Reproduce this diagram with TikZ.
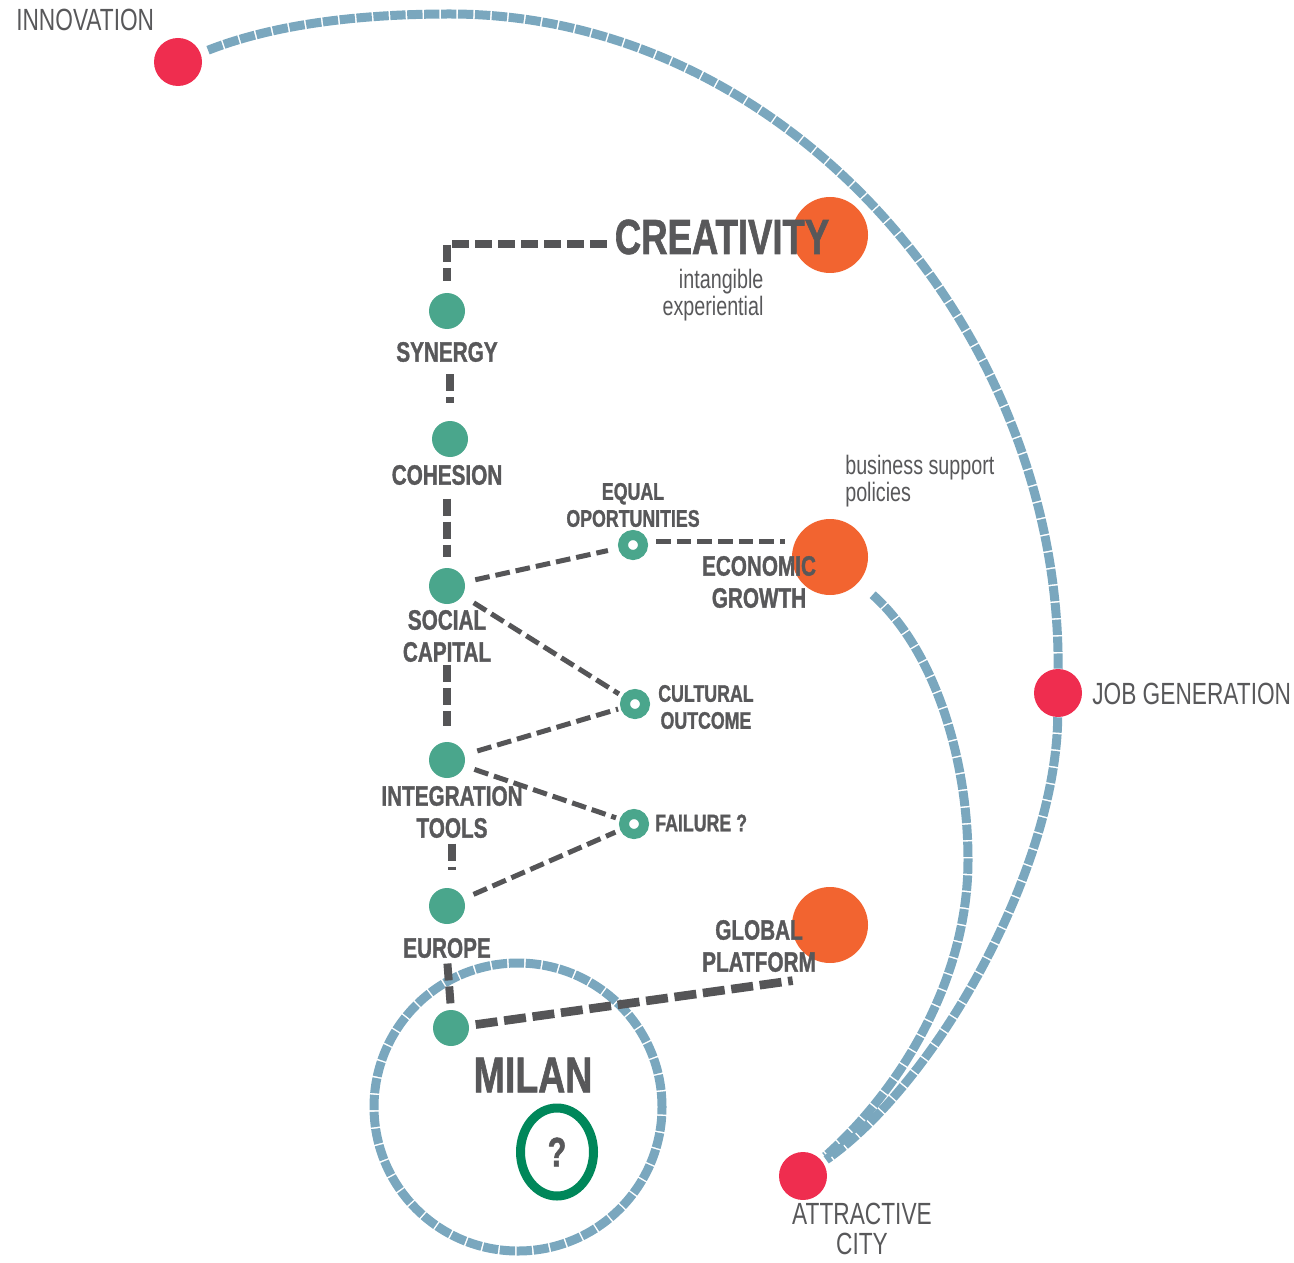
\documentclass[tikz,border=0pt]{standalone}
\usepackage{fontspec}
\setmainfont{Liberation Sans}[FakeStretch=0.74, BoldFeatures={FakeBold=1.2}]
\usetikzlibrary{shapes.geometric}
\definecolor{tx}{HTML}{58585A}
\definecolor{dk}{HTML}{555557}
\definecolor{bl}{HTML}{7AA7BE}
\definecolor{tl}{HTML}{4AA68C}
\definecolor{org}{HTML}{F26430}
\definecolor{rd}{HTML}{EF2D4F}
\definecolor{gr}{HTML}{00875A}
\begin{document}
\begin{tikzpicture}[x=0.75pt,y=-0.75pt,
 blueline/.style={draw=bl, line width=6.75pt, dash pattern=on 11.5pt off 1.2pt},
 spine/.style={draw=dk, line width=6pt, dash pattern=on 12.75pt off 4.5pt},
 thinl/.style={draw=dk, line width=3.75pt, dash pattern=on 11pt off 4.5pt},
 milline/.style={draw=dk, line width=6.5pt, dash pattern=on 16.5pt off 5pt},
 gdot/.style={circle, fill=tl, minimum size=27pt, inner sep=0pt},
 ring/.style={circle, draw=tl, fill=white, line width=7.5pt, minimum size=15pt, inner sep=0pt},
 odot/.style={circle, fill=org, minimum size=57pt, inner sep=0pt},
 rdot/.style={circle, fill=rd, minimum size=36pt, inner sep=0pt},
 lab/.style={text=tx, font=\bfseries\fontsize{21}{24}\selectfont, inner sep=0pt, align=center},
 slab/.style={text=tx, font=\bfseries\fontsize{18}{20.25}\selectfont, inner sep=0pt, align=center},
 rlab/.style={text=tx, font=\fontsize{23}{22.5}\selectfont, inner sep=0pt, align=center},
 note/.style={text=tx, font=\fontsize{20}{20.5}\selectfont, inner sep=0pt},
]
\useasboundingbox (0,0) rectangle (1294,1262);

% dots
\node[rdot] (innov) at (178,62) {};
\node[rdot] (job) at (1058,693) {};
\node[rdot] (attr) at (803,1176) {};
\node[odot] (creadot) at (830,235) {};
\node[odot] (econ) at (830,557) {};
\node[odot] (glob) at (830,925) {};
\node[gdot] (syn) at (447,311) {};
\node[gdot] (coh) at (450,439) {};
\node[gdot] (soc) at (447,586) {};
\node[gdot] (integ) at (447,760) {};
\node[gdot] (eur) at (447,906) {};
\node[gdot] (mil) at (451,1028) {};
\node[ring] (eq) at (633,545) {};
\node[ring] (cult) at (635,704) {};
\node[ring] (fail) at (634,824) {};

% labels
\node[lab, font=\bfseries\fontsize{37}{40}\selectfont] (crea) at (722,237) {CREATIVITY};
\node[note, align=right] (intang) at (713,295) {intangible\\experiential};
\node[lab] (synl) at (447,352) {SYNERGY};
\node[lab] (cohl) at (447,475) {COHESION};
\node[lab] (socl) at (447,636) {SOCIAL\\CAPITAL};
\node[lab] (integl) at (452,812) {INTEGRATION\\TOOLS};
\node[lab] (eurl) at (447,948) {EUROPE};
\node[slab] (eql) at (633,505) {EQUAL\\OPORTUNITIES};
\node[slab, anchor=west] (cultl) at (658,707) {CULTURAL\\OUTCOME};
\node[slab, anchor=west] (faill) at (655,823) {FAILURE ?};
\node[note, align=left, anchor=west] (bsp) at (845,481) {business support\\policies};
\node[rlab, anchor=west] (innovl) at (16,20) {INNOVATION};
\node[rlab, anchor=west] (jobl) at (1092,694) {JOB GENERATION};
\node[rlab] (attrl) at (862,1229) {ATTRACTIVE\\CITY};

% blue connectors
\coordinate (arctop) at (450,14);
\coordinate (econmid) at (968,860);
\draw[blueline, shorten <=6pt] (innov) .. controls (280,22) and (370,14) .. (arctop)
  .. controls (787,14) and (1060,330) .. (job);
\draw[blueline, shorten >=3pt] (job) .. controls (1056,868) and (937,1082) .. (attr);
\draw[blueline, shorten <=14pt, shorten >=4pt] (econ) .. controls (935,650) and (968,760) .. (econmid)
  .. controls (968,980) and (900,1090) .. (attr);
\node[circle, blueline, minimum size=216pt, inner sep=0pt] (milc) at (518,1107) {};

% dark connectors
\draw[spine, shorten <=6pt, shorten >=9pt] ([yshift=-5pt]crea.west) -| (syn.north);
\draw[spine, shorten <=9pt, shorten >=13pt] (coh.north |- synl.south) -- (coh.north);
\draw[spine, shorten <=10pt, shorten >=8pt] (cohl.south) -- (soc.north);
\draw[spine, shorten <=2pt, shorten >=12pt] (socl.south) -- (integ.north);
\draw[spine, shorten <=4pt, shorten >=13pt] (integl.south) -- (integl.south |- eur.north);
\draw[spine, shorten <=4pt, shorten >=4pt] (eurl.south) -- (mil.north);
\draw[thinl, shorten <=8pt, shorten >=8pt] (soc) -- (eq);
\draw[thinl, shorten <=10pt, shorten >=3pt] (soc) -- (cult);
\draw[thinl, shorten <=10pt, shorten >=2pt] (integ) -- (cult);
\draw[thinl, shorten <=8pt, shorten >=3pt] (integ) -- (fail);
\draw[thinl, shorten <=8pt, shorten >=4pt] (eur) -- (fail);
\draw[thinl, shorten <=6pt, shorten >=5pt] ([yshift=3pt]eq.east) -- ([yshift=3pt]eq.east -| econ.west);
\draw[milline, shorten <=5pt] (mil) -- ([xshift=-28pt,yshift=-13pt]glob.south);

% labels over circles
\node[lab] (econl) at (759,582) {ECONOMIC\\GROWTH};
\node[lab] (globl) at (759,946) {GLOBAL\\PLATFORM};
\node[lab, font=\bfseries\fontsize{38}{40}\selectfont] (milanl) at (533,1075) {MILAN};
\node[ellipse, draw=gr, line width=6.75pt, minimum width=54.75pt, minimum height=66pt, inner sep=0pt,
  text=tx, font=\bfseries\fontsize{31}{33}\selectfont] (q) at (557,1152) {?};
\end{tikzpicture}
\end{document}
